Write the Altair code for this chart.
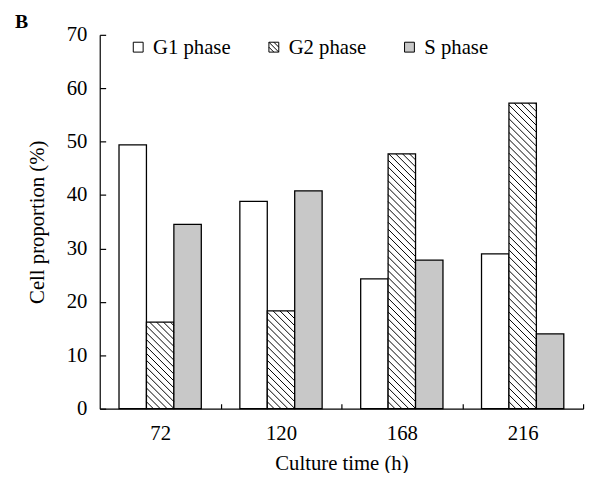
import altair as alt
import pandas as pd

# ---- data ----
times = ["72", "120", "168", "216"]
phases = ["G1 phase", "G2 phase", "S phase"]
phase_colors = ["#ffffff", "#ffffff", "#c8c8c8"]
g1_values = [49.4, 38.8, 24.3, 29.0]
g2_values = [16.2, 18.3, 47.7, 57.2]
s_values = [34.5, 40.8, 27.8, 14.0]
y_ticks = [0, 10, 20, 30, 40, 50, 60, 70]
panel_label = ["B"]

rows = []
for ci, t in enumerate(times):
    for pi, (ph, vals) in enumerate(zip(phases, [g1_values, g2_values, s_values])):
        rows.append({"time": t, "ci": ci, "phase": ph, "pi": pi,
                     "color": phase_colors[pi], "value": vals[ci]})
df = pd.DataFrame(rows)

# ---- layout / style ----
W, H = 490, 379
YMAX = 70
NCAT = len(times)
PXX = W / NCAT          # px per x unit
PXY = H / YMAX          # px per y unit
BW = 0.227              # bar width in category units
SP = 7                  # hatch spacing in px
SERIF = "Liberation Serif"
FS = 21

xscale = alt.Scale(domain=[0, NCAT], nice=False, zero=False)
yscale = alt.Scale(domain=[0, YMAX], nice=False)

label_expr = "[" + ",".join(f"'{t}'" for t in times) + "][floor(datum.value)]"

square = "M-1,-1H1V1H-1Z"
hatched_square = "M-1,-1H1V1H-1Z M-1,0L0,1 M-1,-1L1,1 M0,-1L1,0"
legend_shapes = [square, hatched_square, square]

base = alt.Chart(df).transform_calculate(
    xl=f"datum.ci + 0.5 + (datum.pi - 1) * {BW} - {BW / 2}",
    xr=f"datum.ci + 0.5 + (datum.pi - 1) * {BW} + {BW / 2}",
    zero="0",
)

bars = base.mark_rect(stroke="black", strokeWidth=1.3).encode(
    x=alt.X(
        "xl:Q",
        scale=xscale,
        axis=alt.Axis(
            orient="bottom",
            values=[i + 0.5 for i in range(NCAT)],
            labelExpr=label_expr,
            ticks=False,
            tickSize=0,
            grid=False,
            domainColor="black",
            domainWidth=1.2,
            labelPadding=14,
            labelFont=SERIF,
            labelFontSize=FS,
            labelColor="black",
            title="Culture time (h)",
            titleFont=SERIF,
            titleFontSize=FS,
            titleFontWeight="normal",
            titleColor="black",
            titlePadding=10,
        ),
    ),
    x2="xr:Q",
    y=alt.Y(
        "value:Q",
        scale=yscale,
        axis=alt.Axis(
            orient="left",
            values=y_ticks,
            ticks=False,
            tickSize=0,
            grid=False,
            domainColor="black",
            domainWidth=1.2,
            labelPadding=13,
            labelFont=SERIF,
            labelFontSize=FS,
            labelColor="black",
            title="Cell proportion (%)",
            titleFont=SERIF,
            titleFontSize=FS,
            titleFontWeight="normal",
            titleColor="black",
            titlePadding=19,
        ),
    ),
    y2="zero:Q",
    fill=alt.Fill("color:N", scale=None),
)

# diagonal hatch for the G2 bars, generated from the bar values
hatch = (
    base.transform_filter(alt.datum.phase == phases[1])
    .transform_calculate(
        wpx=f"{BW * PXX}",
        hpx=f"datum.value * {PXY}",
    )
    .transform_calculate(k=f"sequence(1, ceil((datum.wpx + datum.hpx) / {SP}))")
    .transform_flatten(["k"])
    .transform_calculate(c=f"datum.k * {SP}")
    .transform_calculate(
        u1="max(0, datum.c - datum.hpx)",
        u2="min(datum.wpx, datum.c)",
    )
    .transform_calculate(
        hx1=f"datum.xl + datum.u1 / {PXX}",
        hy1=f"(datum.c - datum.u1) / {PXY}",
        hx2=f"datum.xl + datum.u2 / {PXX}",
        hy2=f"(datum.c - datum.u2) / {PXY}",
    )
    .mark_rule(color="black", strokeWidth=1)
    .encode(
        x=alt.X(
            "hx1:Q",
            scale=xscale,
            axis=alt.Axis(
                orient="top",
                offset=-H,
                values=list(range(1, NCAT + 1)),
                labels=False,
                domain=False,
                ticks=True,
                tickSize=5,
                tickColor="black",
                tickWidth=1.2,
                grid=False,
                title=None,
            ),
        ),
        x2="hx2:Q",
        y=alt.Y(
            "hy1:Q",
            scale=yscale,
            axis=alt.Axis(
                orient="right",
                offset=-W,
                values=y_ticks,
                labels=False,
                domain=False,
                ticks=True,
                tickSize=6,
                tickColor="black",
                tickWidth=1.2,
                grid=False,
                title=None,
            ),
        ),
        y2="hy2:Q",
    )
)

# ---- legend drawn as marks (pixel placement, scale=None) ----
legend_df = pd.DataFrame({
    "phase": phases,
    "color": phase_colors,
    "shape": legend_shapes,
    "i": list(range(len(phases))),
})
LEG_X0, LEG_STEP, LEG_Y = 39, 137.5, 12.5
leg_base = alt.Chart(legend_df).transform_calculate(
    sx=f"{LEG_X0} + datum.i * {LEG_STEP}",
    tx=f"{LEG_X0} + datum.i * {LEG_STEP} + 15",
    ly=f"{LEG_Y}",
)
leg_symbols = leg_base.mark_point(
    filled=True, size=100, stroke="black", strokeWidth=1, opacity=1
).encode(
    x=alt.X("sx:Q", scale=None, axis=None),
    y=alt.Y("ly:Q", scale=None, axis=None),
    fill=alt.Fill("color:N", scale=None),
    shape=alt.Shape("shape:N", scale=None),
)
leg_labels = leg_base.mark_text(
    font=SERIF, fontSize=FS, align="left", baseline="middle", color="black", dy=1
).encode(
    x=alt.X("tx:Q", scale=None, axis=None),
    y=alt.Y("ly:Q", scale=None, axis=None),
    text="phase:N",
)

label_layer = (
    alt.Chart(pd.DataFrame({"t": panel_label}))
    .mark_text(
        font=SERIF,
        fontSize=20,
        fontWeight="bold",
        align="left",
        baseline="alphabetic",
        color="black",
    )
    .encode(text="t:N", x=alt.value(-86), y=alt.value(-7))
)

chart = (
    alt.layer(bars, hatch, leg_symbols, leg_labels, label_layer)
    .resolve_axis(x="independent", y="independent")
    .resolve_scale(x="independent", y="independent")
    .properties(
        width=W,
        height=H,
        autosize=alt.AutoSizeParams(type="none"),
        padding={"left": 93, "top": 24, "right": 6, "bottom": 62},
        background="white",
    )
    .configure_view(stroke=None)
)

chart.save("out.html", embed_options={"renderer": "svg", "actions": False})
